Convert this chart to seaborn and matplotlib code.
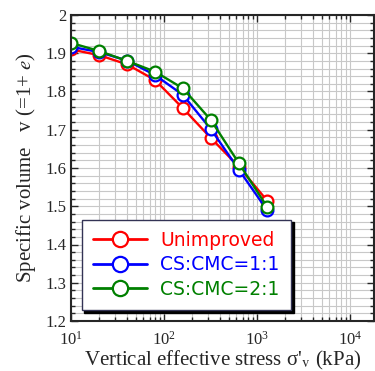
import pandas as pd
import matplotlib
matplotlib.use('Agg')
import matplotlib.pyplot as plt
import matplotlib.ticker as mt
import seaborn as sns

# data
stress = [10, 20, 40, 80, 160, 320, 640, 1280]
v_unimproved = [1.910, 1.895, 1.871, 1.830, 1.756, 1.678, 1.603, 1.515]
v_cs11 = [1.917, 1.903, 1.881, 1.843, 1.791, 1.701, 1.595, 1.490]
v_cs21 = [1.927, 1.906, 1.880, 1.852, 1.808, 1.725, 1.612, 1.499]
names = ['Unimproved', 'CS:CMC=1:1', 'CS:CMC=2:1']
colors = ['#ff0000', '#0000ff', '#008000']

df = pd.concat([
    pd.DataFrame({'stress': stress, 'v': vals, 'series': n})
    for n, vals in zip(names, [v_unimproved, v_cs11, v_cs21])
])

sns.set_style('ticks')
plt.rcParams['font.family'] = ['Liberation Serif', 'DejaVu Serif']
plt.rcParams['mathtext.fontset'] = 'stix'

fig = plt.figure(figsize=(3.75, 3.71), dpi=100)
ax = fig.add_axes([71/375, 1-321/371, 303/375, 306/371])

sns.lineplot(data=df, x='stress', y='v', hue='series', palette=colors,
             marker='o', markersize=8.5, markerfacecolor='white',
             markeredgewidth=1.6, linewidth=1.7, ax=ax, legend=False)
# seaborn gives white marker edges; colour them like the lines
for ln in ax.get_lines():
    ln.set_markeredgecolor(ln.get_color())

ax.set_xscale('log')
ax.set_xlim(10, 1.81e4)
ax.set_ylim(1.2, 2.0)
ax.yaxis.set_major_locator(mt.MultipleLocator(0.1))
ax.yaxis.set_minor_locator(mt.MultipleLocator(0.02))
ax.yaxis.set_major_formatter(mt.FuncFormatter(lambda y, p: f'{y:g}'))
ax.xaxis.set_major_locator(mt.LogLocator(base=10))
ax.xaxis.set_minor_locator(mt.LogLocator(base=10, subs=range(2, 10)))
ax.grid(True, which='both', color='#c8c8c8', linewidth=0.8)
ax.set_axisbelow(True)
ax.tick_params(which='both', direction='in', top=True, right=True,
               labelsize=12, width=1)
ax.tick_params(which='major', length=5)
ax.tick_params(which='minor', length=3)
ax.tick_params(axis='x', which='major', pad=7)
for s in ax.spines.values():
    s.set_linewidth(1.5)

ax.set_xlabel("Vertical effective stress σ'$_{\\mathrm{v}}$ (kPa)",
              fontsize=15, labelpad=0)
ax.set_ylabel('Specific volume   v (=1+ $e$)', fontsize=15, labelpad=5)

handles = [plt.Line2D([], [], color=c, marker='o', markersize=11,
                      markerfacecolor='white', markeredgewidth=1.6,
                      linewidth=2.0) for c in colors]
leg = ax.legend(handles, names, loc='lower left', bbox_to_anchor=(0.035, 0.035),
                borderaxespad=0, fancybox=False, framealpha=1,
                edgecolor='#333355', handlelength=2.9, handletextpad=0.7,
                labelspacing=0.3, borderpad=0.6,
                shadow={'color': 'black', 'alpha': 1},
                prop={'family': 'DejaVu Sans', 'size': 13.5})
for t, c in zip(leg.get_texts(), colors):
    t.set_color(c)

fig.savefig('out.png', dpi=100)
